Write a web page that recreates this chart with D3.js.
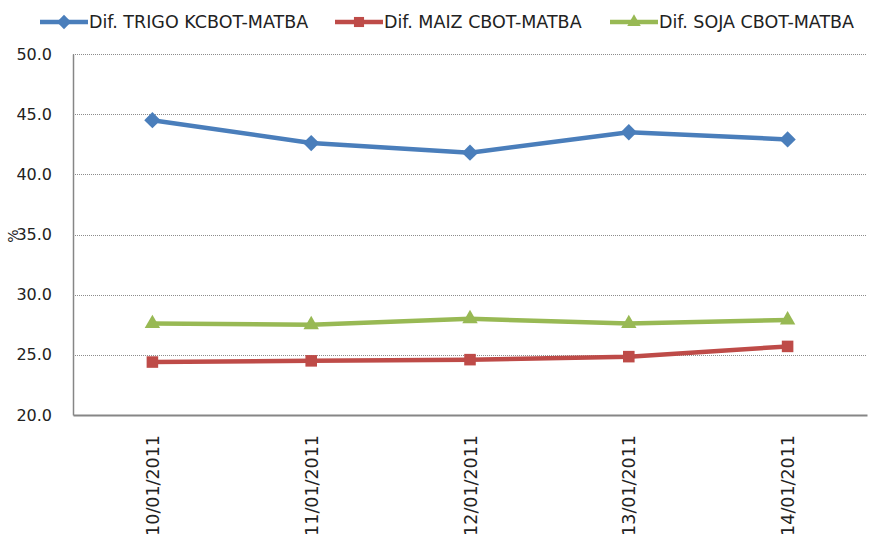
<!DOCTYPE html>
<html lang="en">

<head>
    <meta charset="utf-8">
    <title>Dif. CBOT-MATBA</title>
    <script type="text/javascript" src="https://d3js.org/d3.v7.min.js"></script>
    <style type="text/css">
        body { margin: 0; background: #fff; }
        text { font-family: 'DejaVu Sans', sans-serif; }
    </style>
</head>

<body>
    <script type="text/javascript">
        //Chart data
        const dates = ['10/01/2011', '11/01/2011', '12/01/2011', '13/01/2011', '14/01/2011'];
        const trigo = [44.5, 42.6, 41.8, 43.5, 42.9];
        const maiz = [24.4, 24.5, 24.6, 24.85, 25.7];
        const soja = [27.6, 27.5, 28.0, 27.6, 27.9];
        const seriesNames = ['Dif. TRIGO KCBOT-MATBA', 'Dif. MAIZ CBOT-MATBA', 'Dif. SOJA CBOT-MATBA'];
        const yTicks = [20, 25, 30, 35, 40, 45, 50];

        const series = [
            { name: seriesNames[0], values: trigo, color: '#4A7EBB', symbol: d3.symbolDiamond2 },
            { name: seriesNames[1], values: maiz, color: '#BE4B48', symbol: d3.symbolSquare2 },
            { name: seriesNames[2], values: soja, color: '#98B954', symbol: d3.symbolTriangle2 }
        ];

        //Canvas and plot area
        const canvasWidth = 877;
        const canvasHeight = 540;
        const plot = { left: 73, right: 867, top: 54, bottom: 415 };

        const xScale = d3.scalePoint()
            .domain(dates)
            .range([plot.left, plot.right])
            .padding(0.5)

        const yScale = d3.scaleLinear()
            .domain([20, 50])
            .range([plot.bottom, plot.top])

        const svg = d3.select('body')
            .append('svg')
            .attr('width', canvasWidth)
            .attr('height', canvasHeight)

        //Dotted gridlines
        svg.append('g')
            .selectAll('line')
            .data(yTicks.filter(d => d > 20))
            .enter()
            .append('line')
            .attr('x1', plot.left)
            .attr('x2', plot.right - 1)
            .attr('y1', d => Math.round(yScale(d)) + 0.5)
            .attr('y2', d => Math.round(yScale(d)) + 0.5)
            .attr('stroke', '#8c8c8c')
            .attr('stroke-width', 1)
            .attr('stroke-dasharray', '1,1')

        //Axes
        const leftAxis = d3.axisLeft(yScale)
            .tickValues(yTicks)
            .tickFormat(d3.format('.1f'))
            .tickSize(0)
            .tickPadding(21)

        const gy = svg.append('g')
            .attr('transform', 'translate(' + plot.left + ',0)')
            .call(leftAxis)
        gy.select('.domain').attr('stroke', '#868686').attr('stroke-width', 1.5)
        gy.selectAll('text').attr('font-size', 16).attr('fill', '#222').attr('font-family', 'DejaVu Sans')

        const bottomAxis = d3.axisBottom(xScale).tickSize(0)
        const gx = svg.append('g')
            .attr('transform', 'translate(0,' + plot.bottom + ')')
            .call(bottomAxis)
        gx.select('.domain').attr('stroke', '#868686').attr('stroke-width', 2)
        gx.selectAll('text')
            .attr('font-size', 17.5)
            .attr('fill', '#222')
            .attr('font-family', 'DejaVu Sans')
            .attr('transform', 'rotate(-90)')
            .attr('text-anchor', 'end')
            .attr('x', -20)
            .attr('y', 0)
            .attr('dy', '0.35em')

        //Y axis title
        svg.append('text')
            .attr('transform', 'translate(18,236) rotate(-90)')
            .attr('text-anchor', 'middle')
            .attr('font-size', 14)
            .attr('fill', '#222')
            .text('%')

        //Lines and markers
        const line = d3.line()
            .x((d, i) => xScale(dates[i]))
            .y(d => yScale(d))

        series.forEach(s => {
            svg.append('path')
                .datum(s.values)
                .attr('d', line)
                .attr('fill', 'none')
                .attr('stroke', s.color)
                .attr('stroke-width', 4.5)
                .attr('stroke-linejoin', 'round')

            svg.append('g')
                .selectAll('path')
                .data(s.values)
                .enter()
                .append('path')
                .attr('d', d3.symbol().type(s.symbol).size(170))
                .attr('transform', (d, i) => 'translate(' + xScale(dates[i]) + ',' + yScale(d) + ')')
                .attr('fill', s.color)
        })

        //Legend
        const legendX = [40, 335, 610];
        const legend = svg.append('g')
        series.forEach((s, i) => {
            const g = legend.append('g').attr('transform', 'translate(' + legendX[i] + ',22)')
            g.append('line')
                .attr('x1', 0).attr('x2', 48)
                .attr('stroke', s.color)
                .attr('stroke-width', 4.5)
            g.append('path')
                .attr('d', d3.symbol().type(s.symbol).size(130))
                .attr('transform', 'translate(24,0)')
                .attr('fill', s.color)
            g.append('text')
                .attr('x', 49)
                .attr('dy', '0.35em')
                .attr('font-size', 17.5)
                .attr('fill', '#222')
                .text(s.name)
        })
    </script>
</body>

</html>
